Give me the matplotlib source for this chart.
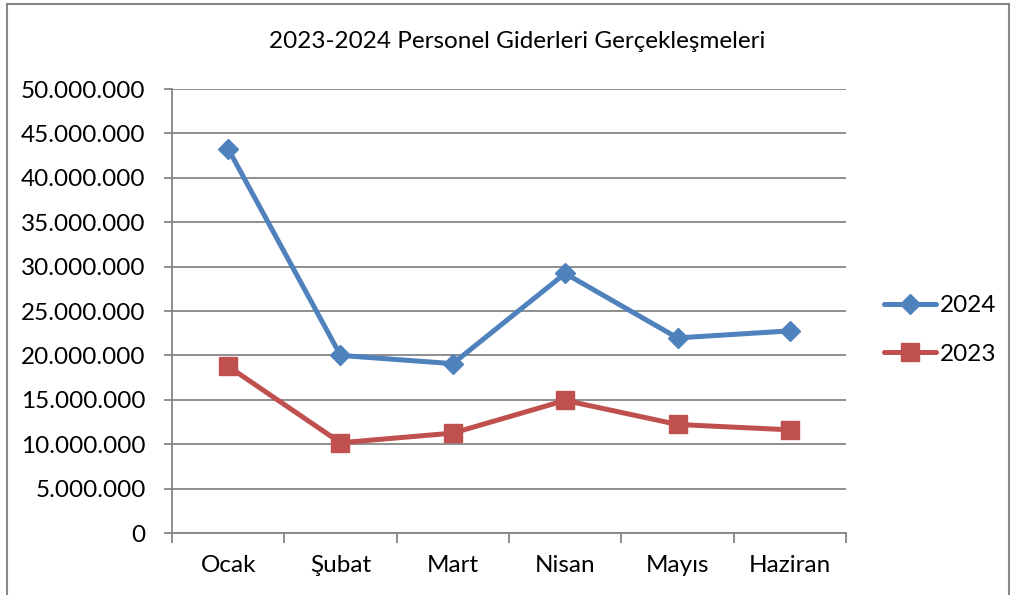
import matplotlib
matplotlib.use("Agg")
import matplotlib.pyplot as plt
from matplotlib.ticker import FuncFormatter, MultipleLocator
from matplotlib.patches import Rectangle

months = ["Ocak", "Şubat", "Mart", "Nisan", "Mayıs", "Haziran"]
values_2024 = [43_260_000, 20_000_000, 19_070_000, 29_230_000, 21_970_000, 22_760_000]
values_2023 = [18_770_000, 10_160_000, 11_250_000, 14_930_000, 12_220_000, 11_620_000]
title = "2023-2024 Personel Giderleri Gerçekleşmeleri"

plt.rcParams['font.family'] = ['Lato', 'DejaVu Sans']

W, H, DPI = 1012, 595, 100
fig = plt.figure(figsize=(W / DPI, H / DPI), dpi=DPI)
ax = fig.add_axes([172 / W, 1 - 533 / H, (846 - 172) / W, (533 - 89) / H])

x = list(range(len(months)))
ax.plot(x, values_2024, color="#4F81BD", lw=3.6, marker="D", ms=10.5, label="2024",
        solid_capstyle="round", zorder=3)
ax.plot(x, values_2023, color="#C0504D", lw=3.6, marker="s", ms=12.5, label="2023",
        solid_capstyle="round", zorder=3)

ax.set_xlim(-0.5, len(months) - 0.5)
ax.set_ylim(0, 50_000_000)
ax.yaxis.set_major_locator(MultipleLocator(5_000_000))
ax.yaxis.set_major_formatter(FuncFormatter(lambda v, p: f"{int(v):,}".replace(",", ".")))
ax.grid(axis="y", color="#868686", lw=1.3)
ax.set_axisbelow(True)

FS = 17.5
ax.set_xticks(x)
ax.set_xticklabels(months)
ax.set_xticks([i - 0.5 for i in range(len(months) + 1)], minor=True)
ax.tick_params(axis="x", which="major", length=0, pad=16, labelsize=FS)
ax.tick_params(axis="x", which="minor", length=7, color="#868686", width=1.3, direction="out")
ax.tick_params(axis="y", length=6, color="#868686", width=1.3, labelsize=FS, pad=13)

for s in ["top", "right"]:
    ax.spines[s].set_visible(False)
for s in ["left", "bottom"]:
    ax.spines[s].set_color("#868686")
    ax.spines[s].set_linewidth(1.3)

fig.text(517 / W, 1 - 42 / H, title, ha="center", va="center", fontsize=FS)

leg = fig.legend(loc="center left", bbox_to_anchor=(884 / W, 1 - 330 / H), frameon=False,
                 fontsize=FS, handlelength=2.15, handletextpad=0.15, labelspacing=1.12,
                 borderaxespad=0, borderpad=0)

fig.patches.append(Rectangle((7 / W, -0.1), (1009 - 7) / W, 1.1 - 4 / H,
                             transform=fig.transFigure, fill=False,
                             edgecolor="#868686", lw=1.5))

fig.savefig("out.png", dpi=DPI)
